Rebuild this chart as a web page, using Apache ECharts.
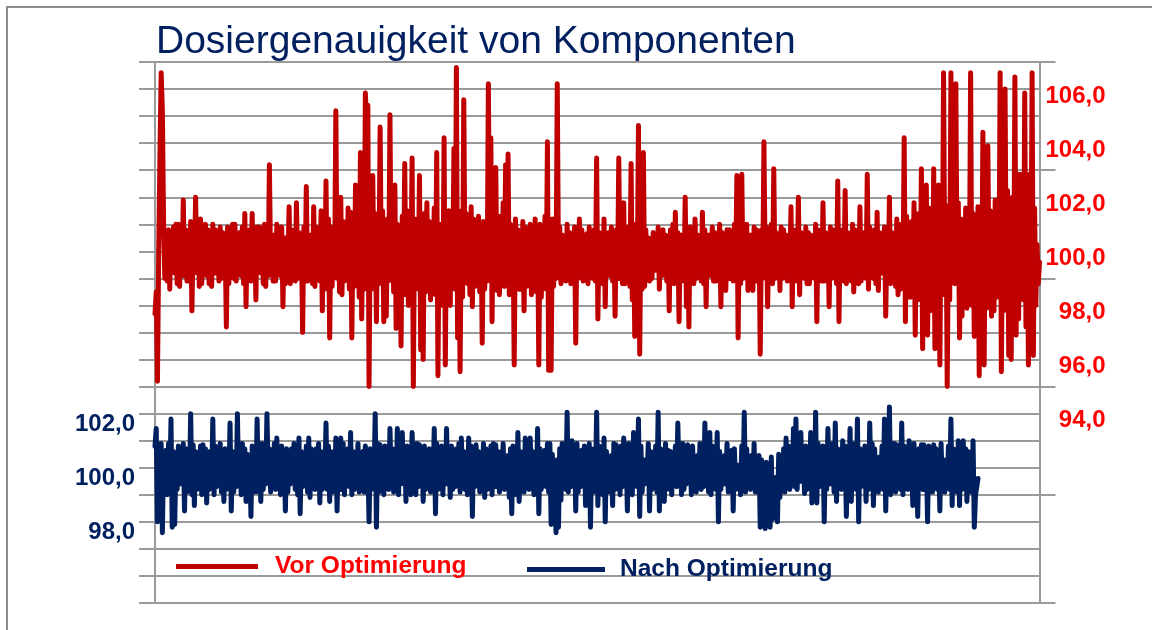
<!DOCTYPE html>
<html>
<head>
<meta charset="utf-8">
<script src="https://cdn.jsdelivr.net/npm/echarts@6/dist/echarts.min.js"></script>
<style>
  html, body { margin: 0; padding: 0; background: #ffffff; }
  #chart { width: 1152px; height: 630px; }
</style>
</head>
<body>
<div id="chart"></div>
<script>
const titleText = 'Dosiergenauigkeit von Komponenten';
const seriesNames = ['Vor Optimierung', 'Nach Optimierung'];

// Vor Optimierung (red, right axis)
const redValues = [
  97.7, 98.5, 95.2, 100.0, 103.5, 106.6, 105.2, 101.0, 99.0, 100.7,
  98.9, 100.8, 98.6, 100.5, 99.3, 100.9, 99.2, 101.0, 98.8, 101.0,
  98.7, 100.6, 99.1, 101.9, 99.1, 100.8, 98.9, 100.7, 98.9, 101.1,
  97.8, 100.5, 99.2, 102.0, 99.3, 100.9, 98.7, 101.2, 98.8, 100.6,
  99.4, 101.0, 99.1, 100.8, 98.8, 100.6, 98.7, 101.0, 99.2, 100.8,
  99.2, 100.5, 98.9, 100.9, 99.0, 100.7, 99.3, 100.5, 97.2, 100.9,
  98.8, 100.6, 99.3, 101.0, 99.0, 101.0, 98.9, 100.6, 99.2, 100.7,
  99.1, 100.9, 98.8, 101.4, 97.95, 100.6, 99.1, 100.8, 98.9, 101.4,
  99.0, 100.7, 98.2, 100.9, 99.3, 100.9, 99.2, 100.6, 98.8, 101.0,
  98.7, 100.8, 99.1, 103.2, 99.4, 100.6, 98.9, 100.6, 98.9, 101.0,
  99.2, 100.7, 99.1, 100.9, 97.95, 100.5, 98.8, 100.5, 99.3, 101.65,
  98.8, 100.8, 99.0, 100.6, 98.9, 101.8, 99.0, 100.7, 99.2, 100.4,
  97.0, 100.9, 99.1, 102.4, 98.9, 100.6, 99.3, 100.6, 98.8, 101.65,
  98.7, 100.9, 99.2, 100.4, 98.9, 101.5, 97.8, 100.7, 99.0, 102.6,
  98.6, 101.2, 96.8, 100.9, 98.7, 100.9, 99.2, 105.2, 99.0, 101.3,
  98.5, 102.0, 98.4, 101.1, 98.9, 100.8, 99.2, 101.6, 98.6, 101.45,
  96.8, 101.0, 98.7, 102.45, 99.1, 101.4, 98.3, 103.65, 97.5, 101.2,
  98.6, 105.85, 104.8, 105.4, 95.0, 101.5, 98.6, 102.8, 99.0, 101.4,
  97.4, 101.0, 98.8, 104.6, 99.3, 101.5, 97.4, 100.9, 97.6, 101.2,
  98.9, 105.05, 99.0, 101.6, 98.5, 102.45, 97.15, 101.0, 98.7, 100.8,
  96.5, 101.3, 98.4, 103.25, 98.4, 101.5, 98.0, 101.2, 99.0, 103.45,
  95.0, 101.2, 98.6, 100.9, 98.9, 102.8, 96.35, 101.0, 96.0, 101.4,
  98.5, 101.8, 98.6, 101.1, 98.2, 100.9, 99.2, 101.6, 98.4, 103.65,
  95.4, 101.0, 98.6, 101.0, 98.0, 104.2, 95.8, 101.3, 98.5, 101.5,
  98.0, 101.2, 99.0, 103.8, 98.6, 106.8, 96.8, 101.5, 95.55, 101.0,
  98.3, 105.6, 99.3, 101.4, 98.8, 100.9, 98.4, 101.65, 97.95, 101.2,
  98.7, 100.8, 99.0, 101.3, 98.5, 101.0, 96.6, 101.1, 98.6, 100.7,
  98.9, 106.2, 99.1, 104.2, 97.4, 101.5, 98.6, 103.1, 98.55, 101.2,
  98.4, 101.3, 99.0, 101.8, 98.7, 103.2, 99.2, 103.6, 98.4, 101.0,
  98.5, 100.9, 95.8, 101.2, 99.5, 100.8, 98.6, 100.65, 98.6, 101.1,
  97.8, 100.9, 98.7, 100.4, 99.0, 101.0, 98.4, 100.6, 98.8, 101.2,
  98.5, 100.8, 95.8, 101.0, 98.3, 100.4, 98.9, 101.3, 98.6, 104.05,
  95.6, 101.0, 95.6, 101.2, 98.7, 101.0, 99.0, 106.2, 99.4, 100.9,
  98.8, 100.6, 99.1, 100.5, 98.9, 101.0, 99.2, 100.7, 98.8, 100.6,
  98.9, 100.9, 96.6, 100.7, 99.0, 101.2, 99.1, 100.8, 98.9, 100.4,
  99.3, 100.65, 98.8, 100.9, 99.2, 100.5, 99.0, 100.8, 98.9, 103.45,
  97.5, 100.7, 99.1, 100.6, 98.8, 101.2, 97.95, 100.6, 99.2, 100.7,
  99.1, 100.9, 98.9, 100.5, 97.6, 100.8, 99.0, 103.45, 99.0, 100.7,
  98.8, 101.8, 98.8, 100.9, 99.2, 100.6, 98.7, 103.25, 98.2, 100.8,
  96.85, 101.0, 98.9, 104.65, 96.2, 100.9, 98.6, 103.65, 98.7, 100.8,
  99.2, 100.5, 98.9, 100.4, 99.0, 100.7, 99.3, 100.6, 99.3, 100.9,
  98.6, 100.5, 99.1, 100.8, 99.2, 100.6, 98.9, 100.5, 97.8, 100.8,
  99.0, 101.0, 98.8, 101.45, 98.9, 100.7, 97.4, 100.6, 99.2, 100.6,
  98.9, 102.0, 97.95, 100.7, 97.2, 100.9, 99.1, 100.8, 98.8, 101.2,
  99.0, 100.6, 99.3, 100.5, 98.9, 101.45, 98.8, 100.8, 97.95, 100.6,
  99.2, 100.6, 99.1, 100.9, 98.9, 100.7, 98.9, 100.5, 99.1, 101.0,
  97.95, 100.7, 99.2, 100.5, 98.55, 100.8, 99.0, 100.8, 99.0, 100.6,
  98.9, 101.0, 99.2, 102.8, 96.8, 100.9, 98.8, 102.85, 99.0, 100.7,
  99.2, 101.0, 98.55, 100.6, 99.1, 100.6, 98.55, 100.9, 98.9, 100.8,
  99.2, 100.7, 96.2, 100.8, 99.0, 104.05, 99.5, 100.9, 97.95, 100.6,
  99.1, 101.0, 98.8, 103.05, 99.0, 100.7, 99.2, 100.6, 98.55, 100.9,
  99.0, 100.8, 99.1, 100.6, 98.9, 100.5, 99.2, 101.65, 97.95, 100.8,
  99.1, 100.4, 98.9, 102.0, 98.4, 100.7, 99.2, 100.6, 99.0, 100.9,
  98.8, 100.7, 98.8, 100.6, 99.3, 100.5, 99.0, 101.0, 97.4, 100.8,
  99.1, 100.6, 98.9, 101.8, 98.9, 100.7, 99.2, 100.5, 97.95, 100.9,
  99.0, 100.8, 99.2, 100.6, 98.8, 102.6, 97.4, 100.8, 99.1, 100.5,
  98.9, 102.25, 98.8, 100.7, 99.2, 100.6, 98.9, 101.0, 98.5, 100.8,
  99.1, 100.4, 98.8, 101.65, 98.9, 100.6, 99.2, 100.7, 99.0, 102.85,
  98.6, 100.9, 99.1, 100.4, 99.0, 100.8, 98.8, 101.45, 98.55, 100.7,
  99.2, 100.6, 99.2, 100.9, 97.6, 100.6, 98.9, 102.0, 98.8, 100.7,
  99.1, 100.5, 98.7, 101.2, 98.4, 101.0, 98.6, 100.6, 99.0, 104.2,
  97.4, 101.3, 98.5, 100.7, 98.3, 101.1, 98.6, 101.8, 96.9, 101.4,
  98.2, 100.5, 98.8, 103.05, 96.4, 101.5, 98.0, 102.45, 96.9, 101.6,
  97.8, 100.6, 98.5, 103.05, 96.4, 101.8, 97.6, 102.45, 95.8, 101.5,
  98.4, 106.6, 99.2, 101.7, 95.0, 101.0, 98.2, 106.6, 99.5, 105.8,
  98.8, 106.2, 99.0, 101.8, 96.8, 101.2, 97.6, 101.0, 99.3, 101.6,
  97.9, 100.5, 98.7, 106.6, 98.0, 101.4, 96.85, 101.0, 97.5, 101.65,
  95.4, 101.2, 98.4, 104.4, 95.8, 101.6, 97.9, 103.9, 99.0, 101.5,
  97.6, 101.2, 97.8, 101.9, 98.3, 100.5, 98.9, 106.6, 95.55, 101.3,
  97.8, 106.0, 98.5, 102.25, 96.15, 101.4, 96.0, 102.0, 98.1, 106.45,
  96.9, 101.5, 97.5, 102.85, 99.0, 101.8, 98.2, 105.85, 97.2, 102.85,
  95.8, 101.4, 98.5, 106.6, 96.15, 101.6, 98.0, 100.25, 98.8, 99.6
];

// Nach Optimierung (blue, left axis)
const blueValues = [
  100.8, 101.45, 98.0, 100.7, 99.2, 100.9, 97.6, 100.5, 99.0, 100.65,
  99.0, 100.9, 99.3, 101.8, 97.8, 100.6, 97.9, 100.2, 99.2, 100.8,
  99.4, 100.6, 99.4, 100.9, 98.4, 100.7, 99.1, 100.7, 99.3, 102.0,
  99.0, 100.85, 98.6, 100.6, 99.2, 100.5, 99.3, 100.8, 99.0, 100.85,
  99.5, 100.7, 98.7, 100.6, 99.2, 100.4, 99.4, 101.8, 99.0, 100.8,
  99.3, 100.3, 99.4, 100.9, 99.1, 100.5, 98.75, 100.7, 99.2, 100.2,
  99.4, 101.65, 98.4, 100.6, 99.1, 100.4, 99.3, 102.0, 99.4, 100.8,
  99.0, 100.9, 99.6, 100.7, 98.75, 100.5, 99.2, 100.3, 98.2, 100.8,
  99.3, 100.4, 99.1, 101.8, 99.3, 100.6, 98.75, 100.9, 99.2, 100.5,
  99.4, 102.0, 99.8, 100.7, 99.1, 100.6, 99.4, 100.9, 99.2, 101.1,
  99.7, 100.6, 99.0, 100.8, 99.3, 100.5, 98.4, 100.7, 99.1, 100.3,
  99.4, 100.7, 99.5, 100.9, 99.2, 100.4, 99.0, 101.1, 98.3, 100.6,
  99.3, 100.2, 99.6, 100.8, 99.1, 101.1, 98.9, 100.7, 99.3, 100.4,
  99.2, 100.7, 99.5, 100.9, 98.7, 100.6, 99.2, 100.3, 99.4, 101.65,
  99.2, 100.8, 98.75, 100.6, 99.1, 100.5, 99.3, 101.1, 98.4, 100.7,
  99.2, 101.1, 99.2, 100.9, 99.0, 100.4, 99.6, 100.7, 99.3, 101.3,
  99.0, 100.6, 99.2, 100.4, 99.6, 100.9, 99.1, 100.45, 99.8, 100.6,
  99.1, 100.8, 99.3, 100.2, 98.0, 100.7, 99.2, 100.3, 99.4, 102.0,
  97.8, 100.9, 99.1, 100.85, 99.5, 100.6, 99.0, 100.8, 99.3, 100.4,
  99.2, 101.45, 99.6, 100.7, 99.1, 100.3, 99.3, 101.45, 99.0, 100.9,
  99.4, 101.3, 99.7, 100.6, 98.75, 100.8, 99.2, 100.4, 99.0, 101.3,
  99.5, 100.7, 99.0, 100.9, 99.3, 100.85, 99.8, 100.6, 98.75, 100.8,
  99.2, 100.45, 99.4, 100.7, 99.1, 100.6, 99.3, 101.45, 98.3, 100.9,
  99.2, 100.2, 99.5, 100.8, 99.0, 100.5, 99.4, 101.45, 99.4, 100.6,
  98.9, 100.8, 99.2, 100.3, 99.3, 100.7, 99.5, 100.9, 99.1, 101.1,
  99.7, 100.6, 99.2, 100.2, 99.0, 101.1, 99.4, 100.8, 98.2, 100.7,
  99.3, 100.85, 99.6, 100.6, 99.1, 100.3, 99.3, 100.9, 98.9, 100.7,
  99.2, 100.4, 99.6, 100.8, 99.0, 100.9, 99.3, 100.85, 99.3, 100.6,
  99.1, 100.45, 99.7, 100.9, 99.2, 100.2, 99.4, 100.45, 98.9, 100.7,
  98.3, 100.8, 99.2, 100.1, 99.0, 101.3, 98.75, 100.6, 99.3, 100.4,
  99.1, 101.1, 99.5, 100.8, 99.2, 101.1, 99.7, 100.6, 99.0, 100.2,
  99.3, 101.45, 98.3, 100.7, 99.2, 100.1, 99.4, 100.65, 99.3, 100.9,
  99.1, 100.9, 97.9, 100.5, 98.6, 99.8, 97.6, 100.3, 97.8, 100.7,
  98.8, 100.9, 99.5, 100.6, 99.2, 102.05, 99.1, 100.8, 99.3, 101.0,
  99.4, 100.7, 98.4, 100.9, 99.1, 100.3, 99.3, 100.65, 99.5, 100.8,
  98.6, 100.6, 99.2, 100.9, 97.8, 100.7, 99.1, 100.2, 99.4, 102.05,
  98.6, 100.8, 99.2, 100.4, 99.0, 101.1, 98.0, 100.6, 99.3, 100.2,
  99.1, 100.45, 98.6, 100.9, 99.2, 100.85, 99.6, 100.7, 99.0, 100.8,
  99.3, 101.1, 99.5, 100.6, 98.4, 100.9, 99.2, 100.3, 99.0, 101.3,
  99.6, 100.7, 99.3, 101.8, 98.2, 100.8, 99.1, 100.3, 99.4, 100.3,
  99.6, 100.9, 98.4, 100.6, 99.2, 100.45, 99.8, 100.8, 99.1, 102.05,
  98.4, 100.7, 99.3, 100.2, 98.75, 100.9, 99.2, 100.65, 99.5, 100.6,
  99.0, 100.3, 99.7, 100.8, 99.3, 101.65, 99.6, 100.7, 99.0, 100.9,
  99.2, 100.4, 99.4, 100.85, 99.5, 100.6, 99.0, 100.8, 99.3, 100.2,
  99.1, 100.45, 99.4, 100.9, 99.2, 100.6, 99.3, 101.65, 99.5, 100.7,
  99.1, 101.3, 99.0, 100.8, 99.3, 100.2, 99.2, 101.3, 98.0, 100.6,
  99.2, 100.3, 99.4, 100.45, 99.4, 100.9, 99.1, 100.2, 99.3, 100.65,
  98.4, 100.7, 99.2, 100.1, 99.5, 100.1, 99.0, 100.8, 99.3, 102.05,
  99.1, 100.7, 99.4, 100.4, 99.2, 100.45, 99.4, 100.9, 99.1, 100.2,
  99.3, 100.45, 97.8, 100.3, 98.2, 99.2, 97.75, 100.2, 98.3, 99.8,
  97.8, 100.4, 98.1, 99.5, 98.4, 99.65, 98.0, 100.5, 98.9, 100.4,
  99.3, 100.7, 99.1, 101.1, 99.6, 100.8, 99.2, 100.3, 99.4, 101.45,
  99.3, 101.8, 99.2, 100.9, 99.5, 101.3, 99.5, 100.7, 99.05, 100.8,
  99.2, 100.4, 99.3, 101.3, 98.7, 100.6, 99.1, 102.05, 98.7, 100.9,
  99.3, 100.5, 99.6, 100.8, 98.0, 100.6, 99.2, 101.45, 99.4, 100.3,
  99.4, 100.9, 99.1, 101.65, 98.75, 100.7, 99.3, 100.3, 99.2, 101.0,
  99.4, 100.8, 98.2, 100.6, 99.1, 101.45, 98.75, 100.9, 99.3, 100.5,
  99.2, 101.8, 98.0, 100.7, 99.3, 100.4, 99.6, 100.8, 98.75, 100.6,
  99.2, 101.65, 99.6, 100.9, 98.6, 100.7, 99.3, 100.3, 99.1, 100.4,
  99.5, 100.8, 99.2, 101.8, 98.4, 100.6, 99.3, 102.25, 99.0, 100.9,
  99.4, 100.9, 99.1, 100.85, 99.5, 100.7, 99.2, 101.65, 99.0, 100.8,
  99.3, 100.3, 99.2, 101.0, 99.5, 100.6, 98.6, 100.9, 99.1, 100.4,
  98.2, 100.7, 99.3, 100.85, 99.2, 100.85, 99.2, 100.6, 98.0, 100.8,
  99.3, 100.3, 99.1, 100.85, 99.6, 100.7, 99.2, 100.5, 98.4, 100.9,
  99.3, 100.3, 99.1, 100.2, 99.4, 100.8, 99.2, 101.8, 98.6, 100.7,
  99.3, 100.4, 99.1, 101.0, 98.6, 100.9, 99.2, 101.0, 99.6, 100.7,
  98.75, 100.6, 99.3, 100.4, 99.1, 101.0, 97.8, 99.0, 99.3, 99.6
];

// Sample numbers (x categories)
const samples = redValues.map((_, i) => String(i + 1));

// Tick labels shown on each value axis
const redTickLabels = [94, 96, 98, 100, 102, 104, 106];
const blueTickLabels = [98, 100, 102];

const fmt = v => v.toFixed(1).replace('.', ',');
const gridGray = '#9a9a9a';
const FONT = "'Liberation Sans', Arial, sans-serif";

const chart = echarts.init(document.getElementById('chart'), null, { renderer: 'canvas' });

chart.setOption({
  animation: false,
  backgroundColor: '#ffffff',
  title: {
    text: titleText,
    left: 156,
    top: 23,
    padding: 0,
    textStyle: { fontFamily: FONT, fontSize: 39, fontWeight: 'normal', color: '#002060' }
  },
  graphic: [{
    type: 'rect',
    silent: true,
    shape: { x: 7, y: 7, width: 1200, height: 700 },
    style: { fill: 'none', stroke: '#8c8c8c', lineWidth: 2 }
  }],
  legend: [
    {
      data: [{ name: seriesNames[0], textStyle: { color: '#FF0000' } }],
      left: 176, top: 554, padding: 0,
      icon: 'rect', itemWidth: 82, itemHeight: 5,
      textStyle: { fontFamily: FONT, fontSize: 24.5, fontWeight: 'bold', padding: [0, 0, 0, 12] }
    },
    {
      data: [{ name: seriesNames[1], textStyle: { color: '#002060' } }],
      left: 527, top: 557, padding: 0,
      icon: 'rect', itemWidth: 78, itemHeight: 5,
      textStyle: { fontFamily: FONT, fontSize: 24.5, fontWeight: 'bold', padding: [0, 0, 0, 10] }
    }
  ],
  grid: { left: 155, right: 112.5, top: 62, bottom: 27, containLabel: false },
  xAxis: {
    type: 'category',
    data: samples,
    boundaryGap: false,
    axisLine: { show: false, onZero: false },
    axisTick: { show: false },
    axisLabel: { show: false },
    splitLine: { show: false }
  },
  yAxis: [
    {
      // Nach Optimierung axis (left) + horizontal gridlines
      type: 'value', position: 'left', min: 95, max: 115, interval: 1,
      axisLine: { show: true, lineStyle: { color: gridGray, width: 2 } },
      axisTick: { show: true, length: 16, lineStyle: { color: gridGray, width: 2 } },
      splitLine: { show: true, lineStyle: { color: gridGray, width: 2 } },
      axisLabel: {
        formatter: v => blueTickLabels.includes(v) ? fmt(v) : '',
        color: '#002060', fontFamily: FONT, fontSize: 24, fontWeight: 'bold',
        margin: 20, verticalAlign: 'top', lineHeight: 22
      }
    },
    {
      // Vor Optimierung axis (right) labels
      type: 'value', position: 'right', min: 87, max: 107, interval: 1,
      axisLine: { show: false },
      axisTick: { show: false },
      splitLine: { show: false },
      axisLabel: {
        formatter: v => redTickLabels.includes(v) ? fmt(v) : '',
        color: '#FF0000', fontFamily: FONT, fontSize: 24, fontWeight: 'bold',
        align: 'right', margin: 66, verticalAlign: 'top', lineHeight: 14
      }
    },
    {
      // right axis line with major ticks
      type: 'value', position: 'right', min: 87, max: 107, interval: 4,
      axisLine: { show: true, lineStyle: { color: gridGray, width: 2 } },
      axisTick: { show: true, length: 16, lineStyle: { color: gridGray, width: 2 } },
      splitLine: { show: false },
      axisLabel: { show: false }
    }
  ],
  series: [
    {
      name: seriesNames[0], type: 'line', yAxisIndex: 1, data: redValues,
      showSymbol: false, symbol: 'none', smooth: false,
      color: '#C00000',
      lineStyle: { color: '#C00000', width: 5, cap: 'round', join: 'round' }
    },
    {
      name: seriesNames[1], type: 'line', yAxisIndex: 0, data: blueValues,
      showSymbol: false, symbol: 'none', smooth: false,
      color: '#002060',
      lineStyle: { color: '#002060', width: 5, cap: 'round', join: 'round' }
    }
  ]
});
</script>
</body>
</html>
